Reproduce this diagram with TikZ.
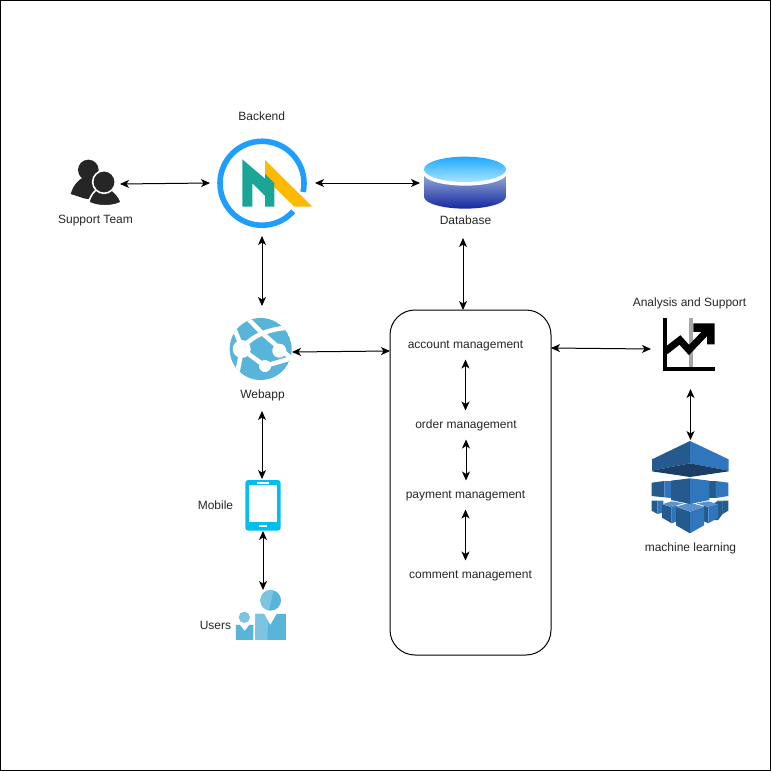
\documentclass[tikz,border=0pt]{standalone}
\usepackage{fontspec}
\setmainfont{Liberation Sans}
\usetikzlibrary{arrows.meta}
\definecolor{ringblue}{HTML}{1E9FFF}
\definecolor{nteal}{HTML}{1BA597}
\definecolor{nyellow}{HTML}{FFB900}
\definecolor{azure}{HTML}{59B4D9}
\definecolor{azurelight}{HTML}{7DC3E2}
\definecolor{phone}{HTML}{00BEF2}
\definecolor{person}{HTML}{262626}
\definecolor{mla}{HTML}{255A8E}
\definecolor{mlb}{HTML}{3076BD}
\definecolor{mlc}{HTML}{1A3E66}
\definecolor{mld}{HTML}{5A93CC}
\definecolor{dbtop}{HTML}{1EA8FF}
\definecolor{dbmid}{HTML}{A8E4FF}
\definecolor{dbbodytop}{HTML}{A9BCE0}
\definecolor{dbbodybot}{HTML}{1428A0}
\tikzset{
  lbl/.style={inner sep=0pt,outer sep=0pt,font=\fontsize{12}{14}\selectfont,text=black!85},
  sublbl/.style={lbl,minimum height=30pt},
  iconbox/.style={inner sep=0pt,outer sep=0pt,draw=none},
  link/.style={line width=1pt,draw=black,{Stealth[length=9pt,width=8pt,inset=2.5pt]}-{Stealth[length=9pt,width=8pt,inset=2.5pt]}},
  zoomed/.style={x=0.3333pt,y=-0.3333pt},
}
\begin{document}
\begin{tikzpicture}[x=1pt,y=-1pt]
\useasboundingbox (0,0) rectangle (771,771);
\draw[line width=1pt,black] (0.5,0.5) rectangle (770.5,770.5);

% ---- icon anchors
\node[iconbox,minimum width=50pt,minimum height=48pt] (support) at (95,184) {};
\node[iconbox,minimum width=104pt,minimum height=106pt] (backend) at (263,183) {};
\node[iconbox,minimum width=86pt,minimum height=83pt] (db) at (463,196.5) {};
\node[iconbox,minimum width=60pt,minimum height=92pt] (webapp) at (262,352) {};
\node[iconbox,minimum width=36pt,minimum height=52pt] (mobile) at (263,505) {};
\node[iconbox,minimum width=46pt,minimum height=50pt] (users) at (263,615) {};
\node[iconbox,minimum width=79pt,minimum height=80pt] (analysis) at (690.5,349) {};
\node[iconbox,minimum width=77pt,minimum height=95pt] (ml) at (690.5,487.5) {};
\node[draw=black,line width=1pt,rounded corners=25pt,minimum width=161pt,minimum height=345pt,inner sep=0pt,outer sep=0pt] (box) at (470.5,482.5) {};

% ---- Support team icon
\begin{scope}[shift={(50,100)},zoomed]
  \fill[person] (115,210) circle (31);
  \fill[person] (62,282) .. controls (70,255) and (85,240) .. (100,232) -- (130,232) .. controls (145,245) and (150,270) .. (150,300) -- (105,296) -- cycle;
  \fill[person,draw=white,line width=1.6pt] (116,307) .. controls (122,285) and (133,272) .. (145,266) -- (180,266) .. controls (195,275) and (208,290) .. (214,307) .. controls (190,321) and (140,321) .. (116,307) -- cycle;
  \fill[person,draw=white,line width=1.6pt] (162,246) circle (34);
\end{scope}

% ---- Backend icon
\draw[ringblue,line width=5.6pt] (303.1,192) arc[start angle=12,end angle=-318,radius=42];
\begin{scope}[shift={(235,150)},zoomed]
  \fill[nyellow] (90,30) -- (232,170) -- (178,170) -- (90,84) -- cycle;
  \fill[nteal] (22,28) -- (90,86) -- (90,72) -- (118,100) -- (118,170) -- (90,170) -- (90,138) -- (52,100) -- (52,170) -- (22,170) -- cycle;
\end{scope}

% ---- Database icon
\begin{scope}[shift={(410,140)},zoomed]
  \shade[top color=dbbodytop,bottom color=dbbodybot] (42,88) -- (42,170) arc[start angle=180,end angle=0,x radius=123,y radius=36] -- (288,88) -- cycle;
  \fill[white] (165,100) ellipse[x radius=125,y radius=37];
  \shade[top color=dbtop,bottom color=dbmid] (165,88) ellipse[x radius=123,y radius=38];
\end{scope}

% ---- Webapp icon
\begin{scope}
  \clip (260.7,349) circle (31);
  \fill[azure] (260.7,349) circle (31);
  \begin{scope}[white,line width=4.5pt]
    \draw (248.3,319) -- (262,333) -- (293,360);
    \draw (241.7,349) .. controls (248,340) and (262,330) .. (285,328);
    \draw (233,326) .. controls (237,335) and (240,342) .. (241.7,349) .. controls (240,360) and (238,368) .. (236.7,378);
    \draw (241.7,349) -- (265,366) -- (292,358);
  \end{scope}
  \fill[white] (241.7,349) circle (9);
  \fill[white] (279.3,350.7) circle (7);
  \fill[white] (265,366) circle (6);
\end{scope}

% ---- Mobile icon
\fill[phone,rounded corners=3pt] (245.3,480) rectangle (280.7,530.7);
\fill[white] (249,485) rectangle (277.3,521.7);
\fill[white] (256.7,482.3) rectangle (269.3,483.7);
\fill[white] (259.3,525) rectangle (267.3,527);

% ---- Users icon
\begin{scope}[shift={(190,470)},zoomed]
  \fill[azure] (242,391) circle (31);
  \begin{scope}
    \clip (242,391) circle (31);
    \fill[azurelight] (205,355) -- (252,355) -- (236,425) -- (205,425) -- cycle;
  \end{scope}
  \fill[azure] (196,432) -- (222,432) -- (241,465) -- (260,432) -- (288,432) -- (288,510) -- (196,510) -- cycle;
  \fill[azurelight] (196,432) -- (222,432) -- (234,454) -- (232,510) -- (196,510) -- cycle;
  \fill[azurelight] (163,442) circle (17);
  \fill[azure] (138,465) -- (150,465) -- (164,483) -- (178,465) -- (190,465) -- (190,510) -- (138,510) -- cycle;
\end{scope}

% ---- Analysis icon
\begin{scope}[shift={(630,290)},zoomed]
  \fill[black!35] (178,85) rectangle (190,232);
  \fill[black] (100,85) rectangle (112,242);
  \fill[black] (100,231) rectangle (254,242);
  \fill[black] (190,100) -- (254,100) -- (254,163) -- (231,163) -- (231,126) -- (190,126) -- cycle;
  \draw[black,line width=7pt,miter limit=10] (106,184) -- (150,150) -- (177,180) -- (240,114);
\end{scope}

% ---- Machine learning icon: roof
\begin{scope}[shift={(640,430)},zoomed]
  \fill[mla] (150,33) -- (36,88) -- (36,122) -- (150,100) -- cycle;
  \fill[mlb] (150,33) -- (266,88) -- (266,122) -- (150,100) -- cycle;
  \fill[mlc] (36,122) -- (150,100) -- (266,122) -- (266,124) -- (150,141) -- (36,124) -- cycle;
\end{scope}
% ---- Machine learning icon: cubes
\begin{scope}[shift={(650,470)},zoomed]
  % bottom row, outer
  \fill[mla] (5,92) -- (22,92) -- (22,132) -- (5,122) -- cycle;
  \fill[mlb] (22,92) -- (40,92) -- (40,128) -- (22,132) -- cycle;
  \fill[mla] (235,92) -- (218,92) -- (218,132) -- (235,122) -- cycle;
  \fill[mlb] (218,92) -- (200,92) -- (200,128) -- (218,132) -- cycle;
  \fill[mla] (178,104) -- (200,96) -- (218,96) -- (218,132) -- (204,150) -- (178,150) -- cycle;
  % bottom row, inner
  \fill[mla] (36,103) -- (65,111) -- (65,160) -- (36,143) -- cycle;
  \fill[mlb] (65,111) -- (80,106) -- (80,154) -- (65,160) -- cycle;
  \fill[mld] (36,103) -- (65,94) -- (100,100) -- (65,111) -- cycle;
  \fill[mla] (140,100) -- (175,111) -- (175,160) -- (162,154) -- (162,106) -- cycle;
  \fill[mlb] (175,111) -- (204,103) -- (204,143) -- (175,160) -- cycle;
  \fill[mld] (140,100) -- (175,94) -- (204,103) -- (175,111) -- cycle;
  % front cube
  \fill[mla] (78,110) -- (120,125) -- (120,190) -- (78,166) -- cycle;
  \fill[mlb] (120,125) -- (162,110) -- (162,166) -- (120,190) -- cycle;
  \fill[mld] (78,110) -- (120,98) -- (162,110) -- (120,125) -- cycle;
  % middle row
  \fill[mla] (5,38) -- (43,33) -- (43,82) -- (5,78) -- cycle;
  \fill[mlb] (43,33) -- (63,33) -- (63,84) -- (43,82) -- cycle;
  \fill[mla] (178,33) -- (197,33) -- (197,84) -- (178,84) -- cycle;
  \fill[mlb] (197,33) -- (235,38) -- (235,78) -- (197,84) -- cycle;
  \fill[mla] (63,32) -- (120,25) -- (120,102) -- (63,90) -- cycle;
  \fill[mlb] (120,25) -- (178,32) -- (178,90) -- (120,102) -- cycle;
\end{scope}

% ---- labels
\node[lbl] (lbackend) at (261.7,116.5) {Backend};
\node[lbl] (lsupport) at (95.5,220.5) {Support Team};
\node[lbl] (ldb) at (465.5,220.5) {Database};
\node[lbl] (lwebapp) at (262.5,395.5) {Webapp};
\node[lbl] (lmobile) at (215.5,505.5) {Mobile};
\node[lbl] (lusers) at (215.5,625.5) {Users};
\node[lbl] (lanalysis) at (689.5,303.5) {Analysis and Support};
\node[lbl] (lml) at (690.5,548.5) {machine learning};
\node[sublbl] (account) at (465.5,345.5) {account management};
\node[sublbl] (order) at (466,425.5) {order management};
\node[sublbl] (payment) at (465.5,495.5) {payment management};
\node[sublbl] (comment) at (470.5,575.5) {comment management};

% ---- connectors
\draw[link] (support.east) -- ([xshift=-1pt]backend.west |- backend.center);
\draw[link] (backend.east) -- (backend.east -| db.west);
\draw[link] (webapp.north |- backend.south) -- (webapp.north);
\draw[link] (db.south) -- (db.south |- box.north);
\draw[link] (webapp.east) -- ([yshift=1pt]webapp.east -| box.west);
\draw[link] ([yshift=1pt]analysis.west -| box.east) -- (analysis.west);
\draw[link] (analysis.south) -- (ml.north);
\draw[link] ([yshift=-13pt]webapp.south) -- (mobile.north -| webapp.south);
\draw[link] (mobile.south) -- (users.north);
\draw[link] ([yshift=1pt]account.south) -- (account.south |- order.north);
\draw[link] ([yshift=1pt]order.south) -- (order.south |- payment.north);
\draw[link] ([yshift=1pt]payment.south) -- (payment.south |- comment.north);
\end{tikzpicture}
\end{document}
